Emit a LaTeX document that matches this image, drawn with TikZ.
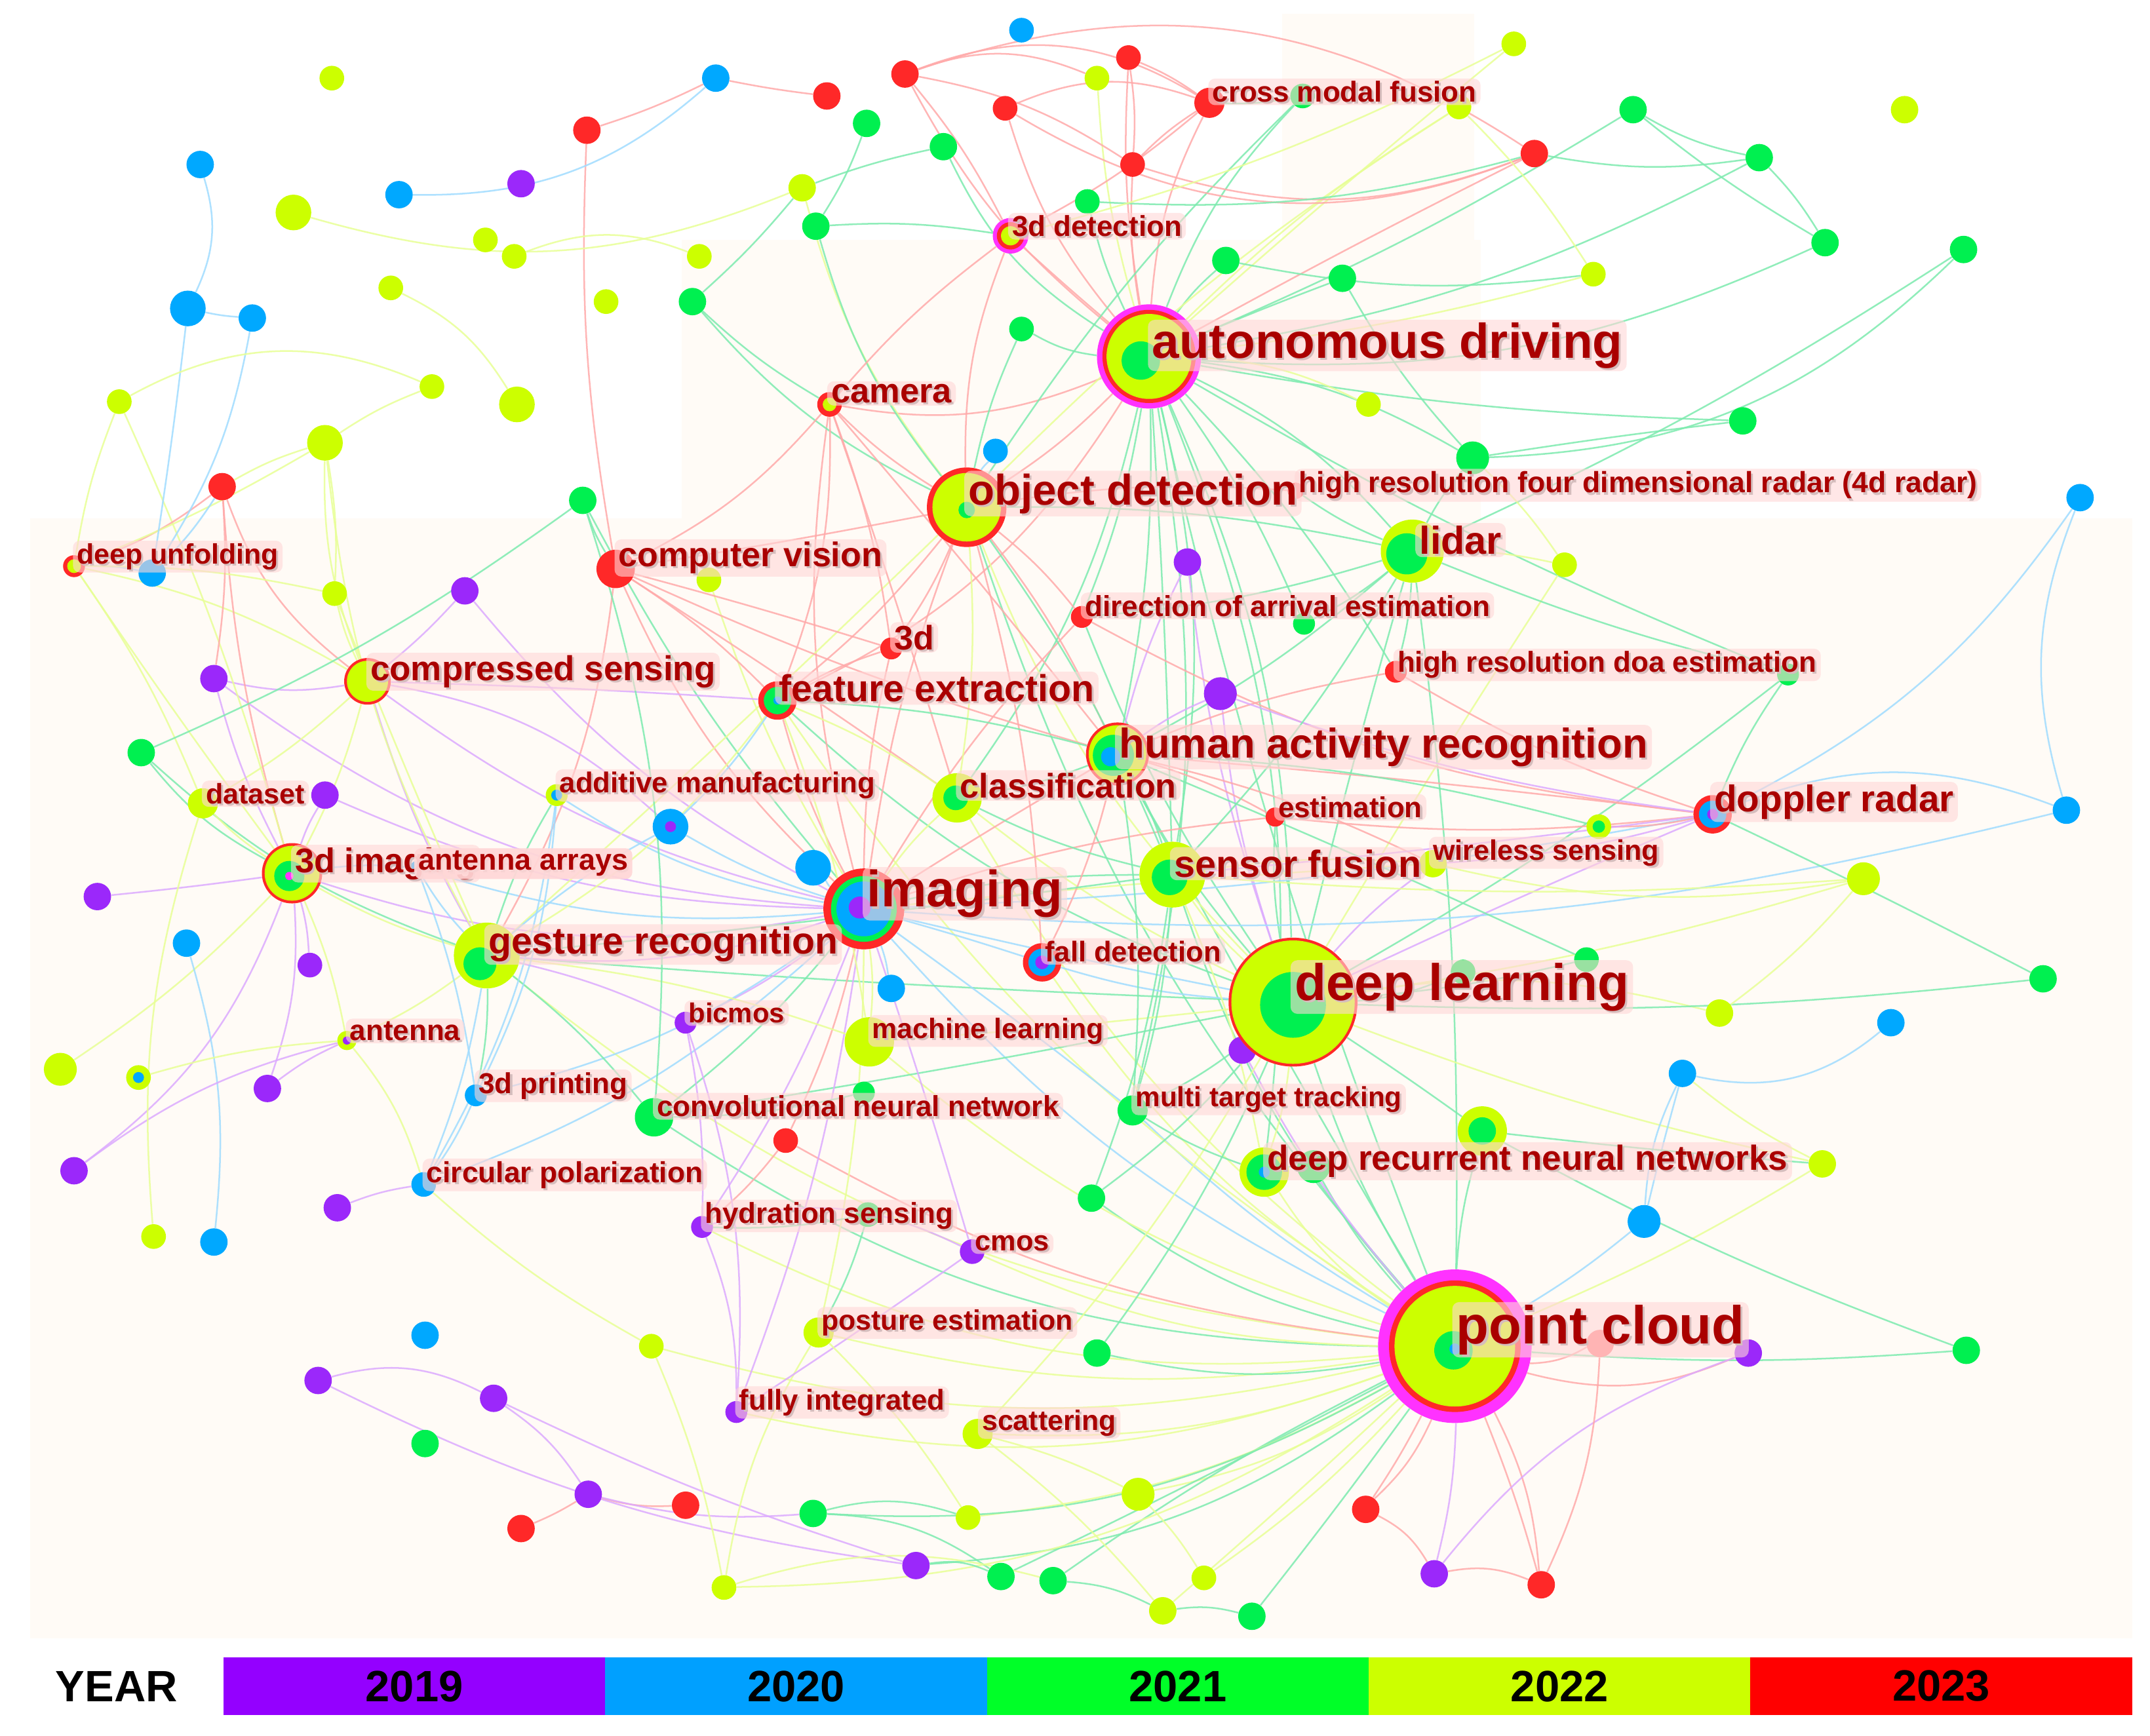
\documentclass[tikz,border=0pt]{standalone}
\usepackage{fontspec}
\setmainfont{Liberation Sans}
\definecolor{c19}{RGB}{155,40,250}
\definecolor{c20}{RGB}{0,168,255}
\definecolor{c21}{RGB}{0,240,80}
\definecolor{c22}{RGB}{204,255,0}
\definecolor{c23}{RGB}{255,40,40}
\definecolor{cmag}{RGB}{255,50,255}
\definecolor{csal}{RGB}{255,128,128}
\definecolor{l19}{RGB}{220,170,255}
\definecolor{l20}{RGB}{160,220,255}
\definecolor{l21}{RGB}{125,235,175}
\definecolor{l22}{RGB}{232,255,150}
\definecolor{l23}{RGB}{255,170,170}
\definecolor{lred}{RGB}{170,0,0}
\definecolor{lpink}{RGB}{255,215,215}
\definecolor{shgray}{RGB}{150,150,150}
\definecolor{beige}{RGB}{255,251,246}
\definecolor{k19}{RGB}{148,0,255}
\definecolor{k20}{RGB}{0,160,255}
\definecolor{k21}{RGB}{0,255,40}
\definecolor{k22}{RGB}{204,255,0}
\definecolor{k23}{RGB}{255,0,0}
\pgfdeclarelayer{bg}
\pgfdeclarelayer{edges}
\pgfsetlayers{bg,edges,main}
\tikzset{
  dot/.style={circle,inner sep=0pt,draw=none},
  edge/.style={line width=1.2pt,opacity=0.85},
  kw/.style={anchor=west,xshift=-3pt,inner xsep=3pt,inner ysep=2pt,fill=lpink,fill opacity=0.6,text opacity=1,text=lred,rounded corners=5pt,font=\bfseries\fontsize{#1}{#1}\selectfont},
  kwsh/.style={anchor=west,xshift=-1.5pt,yshift=-1.5pt,inner xsep=3pt,inner ysep=2pt,text=shgray,font=\bfseries\fontsize{#1}{#1}\selectfont},
  legbox/.style={minimum width=278.4pt,minimum height=42pt,inner sep=0pt,font=\bfseries\fontsize{32}{32}\selectfont,text=black},
}
\begin{document}
\begin{tikzpicture}[x=1pt,y=-1pt]
\useasboundingbox (0,0) rectangle (1568,1266);
\begin{pgfonlayer}{bg}
\fill[white] (0,0) rectangle (1568,1266);
\fill[beige] (22,378) rectangle (1555,1195);
\fill[beige] (497,175) rectangle (1080,378);
\fill[beige] (935,10) rectangle (1075,175);
\end{pgfonlayer}

% ---------- small nodes ----------
\foreach \n/\x/\y/\r/\c in {
t1/745/22/9/c20, t2/1104/32/9/c22, t3/242/57/9/c22, t4/522/57/10/c20, t5/660/54/10/c23, t6/823/42/9/c23, t7/800/57/9/c22, t8/603/70/10/c23, t9/733/79/9/c23, t10/950/70/9/c21, t11/1064/78/9/c22, t12/1191/80/10/c21, t13/1389/80/10/c22, t14/428/95/10/c23, t15/632/90/10/c21, t16/688/107/10/c21, t17/826/120/9/c23, t18/1119/112/10/c23, t19/1283/115/10/c21, t20/146/120/10/c20, t21/380/134/10/c19, t22/291/142/10/c20, t23/585/137/10/c22, t24/214/155/13/c22, t25/595/165/10/c21, t26/793/147/9/c21, t27/354/175/9/c22, t28/375/187/9/c22, t29/510/187/9/c22, t30/1331/177/10/c21, t31/1432/182/10/c21, t32/894/190/10/c21, t33/979/203/10/c21, t34/1162/200/9/c22, t35/137/225/13/c20, t36/184/232/10/c20, t37/285/210/9/c22, t38/442/220/9/c22, t39/505/220/10/c21, t40/745/240/9/c21, t41/87/293/9/c22, t42/315/282/9/c22, t43/377/295/13/c22, t44/998/295/9/c22, t45/237/323/13/c22, t46/726/329/9/c20, t47/1074/334/12/c21, t48/1271/307/10/c21, t49/162/355/10/c23, t50/425/365/10/c21,
m1/1517/363/10/c20, m2/111/418/10/c20, m3/866/410/10/c19, m4/1141/412/9/c22, m5/517/423/9/c22, m6/244/433/9/c22, m7/339/431/10/c19, m8/951/455/8/c21, m9/156/495/10/c19, m10/890/506/12/c19, m11/1304/492/8/c21, m12/103/549/10/c21, m13/237/580/10/c19, m14/489/603/13/c20, m15/593/633/13/c20, m16/1507/591/10/c20, m17/1359/641/12/c22, m18/71/654/10/c19, m19/136/688/10/c20, m20/226/704/9/c19, m21/650/721/10/c20, m22/1157/700/9/c21, m23/1067/709/9/c21, m24/1490/714/10/c21, m25/1254/739/10/c22, m26/906/766/10/c19, m27/1379/746/10/c20, m28/44/780/12/c22, m29/101/786/9/c22, m30/195/794/10/c19, m31/1227/783/10/c20, m32/1081/825/18/c22, m33/958/851/12/c21, m34/573/832/9/c23, m35/630/797/8/c21, m36/1329/849/10/c22, m37/54/854/10/c19, m38/246/881/10/c19, m39/796/874/10/c21, m40/1199/891/12/c20, m41/112/902/9/c22, m42/156/906/10/c20, m43/633/886/9/c21, m44/1166/603/9/c22,
b1/310/974/10/c20, b2/475/982/9/c22, b3/800/987/10/c21, b4/1167/980/10/csal, b5/1275/987/10/c19, b6/1434/985/10/c21, b7/232/1007/10/c19, b8/360/1020/10/c19, b9/310/1053/10/c21, b10/830/1090/12/c22, b11/429/1090/10/c19, b12/500/1098/10/c23, b13/380/1115/10/c23, b14/593/1104/10/c21, b15/706/1107/9/c22, b16/996/1101/10/c23, b17/668/1142/10/c19, b18/1046/1148/10/c19, b19/730/1150/10/c21, b20/768/1153/10/c21, b21/878/1151/9/c22, b22/528/1158/9/c22, b23/1124/1156/10/c23, b24/848/1175/10/c22, b25/913/1179/10/c21}
{\node[dot,minimum size=\r*2pt,fill=\c] (\n) at (\x,\y) {};}
\fill[c19] (m14.center) circle[radius=4pt];
\fill[c20] (m29.center) circle[radius=4pt];
\fill[c21] (m32.center) circle[radius=10pt];
\fill[c21] (m44.center) circle[radius=4.5pt];

% ---------- keyword nodes ----------
\node[dot,minimum size=76pt,fill=cmag] (ad) at (838,260) {};
\fill[c23] (ad.center) circle[radius=34pt];
\fill[c22] (ad.center) circle[radius=31pt];
\fill[c21] (832,263) circle[radius=14pt];
\node[dot,minimum size=112pt,fill=cmag] (pc) at (1061,982) {};
\fill[c23] (pc.center) circle[radius=48pt];
\fill[c22] (pc.center) circle[radius=44pt];
\fill[c21] (1060,985) circle[radius=14pt];
\fill[c20] (1061,984) circle[radius=4pt];
\node[dot,minimum size=94pt,fill=c23] (dl) at (943,731) {};
\fill[c22] (dl.center) circle[radius=45pt];
\fill[c21] (943,733) circle[radius=24pt];
\node[dot,minimum size=59pt,fill=c23] (img) at (630,663) {};
\fill[c21] (img.center) circle[radius=24pt];
\fill[c20] (img.center) circle[radius=20pt];
\fill[c19] (627,662) circle[radius=8pt];
\node[dot,minimum size=58pt,fill=c23] (od) at (705,370) {};
\fill[c22] (od.center) circle[radius=25pt];
\fill[c21] (705,372) circle[radius=6pt];
\node[dot,minimum size=46pt,fill=c22] (lid) at (1030,402) {};
\fill[c21] (1026,404) circle[radius=15pt];
\node[dot,minimum size=46pt,fill=c23] (har) at (815,550) {};
\fill[c22] (har.center) circle[radius=21pt];
\fill[c21] (812,551) circle[radius=15pt];
\fill[c20] (810,552) circle[radius=7pt];
\node[dot,minimum size=48pt,fill=c22] (sf) at (855,638) {};
\fill[c21] (853,640) circle[radius=13pt];
\node[dot,minimum size=48pt,fill=c22] (gr) at (355,697) {};
\fill[c21] (350,703) circle[radius=12pt];
\node[dot,minimum size=36pt,fill=c22] (drnn) at (922,855) {};
\fill[c21] (drnn.center) circle[radius=13pt];
\fill[c20] (drnn.center) circle[radius=4pt];
\node[dot,minimum size=28pt,fill=c23] (dop) at (1249,594) {};
\fill[c20] (dop.center) circle[radius=10pt];
\fill[c19] (dop.center) circle[radius=4pt];
\node[dot,minimum size=36pt,fill=c22] (cls) at (698,582) {};
\fill[c21] (697,582) circle[radius=9pt];
\node[dot,minimum size=28pt,fill=c23] (fe) at (567,511) {};
\fill[c21] (fe.center) circle[radius=10pt];
\fill[c20] (fe.center) circle[radius=3pt];
\node[dot,minimum size=34pt,fill=c23] (cs) at (268,497) {};
\fill[c22] (cs.center) circle[radius=15pt];
\node[dot,minimum size=44pt,fill=c23] (i3d) at (213,637) {};
\fill[c22] (i3d.center) circle[radius=20pt];
\fill[c21] (211,639) circle[radius=11pt];
\fill[cmag] (211,639) circle[radius=3pt];
\node[dot,minimum size=10pt,fill=c20] (aa) at (304,633) {};
\node[dot,minimum size=28pt,fill=c23] (cv) at (449,415) {};
\node[dot,minimum size=18pt,fill=c23] (cam) at (605,295) {};
\fill[c22] (cam.center) circle[radius=5pt];
\node[dot,minimum size=26pt,fill=cmag] (det3d) at (737,172) {};
\fill[c23] (det3d.center) circle[radius=10pt];
\fill[c22] (det3d.center) circle[radius=7pt];
\node[dot,minimum size=22pt,fill=c23] (cmf) at (882,75) {};
\node[dot,minimum size=12pt,fill=c23] (hr4d) at (945,358) {};
\node[dot,minimum size=16pt,fill=c23] (doa) at (789,450) {};
\node[dot,minimum size=16pt,fill=c23] (d3) at (650,473) {};
\node[dot,minimum size=16pt,fill=c23] (hrdoa) at (1018,490) {};
\node[dot,minimum size=14pt,fill=c23] (est) at (930,596) {};
\node[dot,minimum size=20pt,fill=c22] (ws) at (1045,630) {};
\node[dot,minimum size=16pt,fill=c22] (am) at (406,580) {};
\fill[c20] (am.center) circle[radius=4pt];
\node[dot,minimum size=22pt,fill=c22] (ds) at (148,586) {};
\node[dot,minimum size=16pt,fill=c23] (du) at (54,413) {};
\fill[c22] (du.center) circle[radius=5pt];
\node[dot,minimum size=28pt,fill=c23] (fd) at (760,702) {};
\fill[c20] (fd.center) circle[radius=10pt];
\fill[c19] (fd.center) circle[radius=5pt];
\node[dot,minimum size=36pt,fill=c22] (ml) at (634,760) {};
\node[dot,minimum size=16pt,fill=c19] (bic) at (500,746) {};
\node[dot,minimum size=14pt,fill=c22] (ant) at (253,759) {};
\fill[c19] (ant.center) circle[radius=3pt];
\node[dot,minimum size=16pt,fill=c20] (pr3d) at (347,799) {};
\node[dot,minimum size=28pt,fill=c21] (cnn) at (477,815) {};
\node[dot,minimum size=22pt,fill=c21] (mtt) at (826,810) {};
\node[dot,minimum size=18pt,fill=c20] (cp) at (309,864) {};
\node[dot,minimum size=16pt,fill=c19] (hs) at (512,895) {};
\node[dot,minimum size=18pt,fill=c19] (cmos) at (709,913) {};
\node[dot,minimum size=22pt,fill=c22] (pe) at (597,972) {};
\node[dot,minimum size=16pt,fill=c19] (fi) at (537,1030) {};
\node[dot,minimum size=22pt,fill=c22] (sc) at (713,1046) {};

% ---------- connectors ----------
\begin{pgfonlayer}{edges}
\foreach \a/\b/\s/\bd in {
ad/cmf/l23/5, ad/det3d/l23/-5, ad/cam/l23/10, ad/od/l23/0, ad/t10/l21/5, ad/t12/l21/-10, ad/t19/l21/-15, ad/t30/l21/-20, ad/t32/l21/0, ad/t33/l21/-5, ad/t40/l21/5, ad/lid/l21/5, ad/har/l21/0, ad/sf/l21/-5, ad/t47/l21/5, ad/t48/l21/-10, ad/t5/l23/5, ad/t6/l23/0, ad/t7/l22/0, ad/dl/l21/5, ad/t18/l23/-5, ad/pc/l21/-10, ad/t44/l22/5, ad/doa/l21/0, ad/mtt/l21/5, ad/t26/l21/0, ad/t2/l22/-5, ad/t11/l22/0, ad/t34/l22/-10, ad/t16/l21/10, ad/m11/l21/-10, ad/drnn/l21/8, ad/cls/l21/5, ad/fe/l23/10, ad/m8/l21/0, ad/hrdoa/l21/0, ad/t9/l23/5, ad/t17/l23/0, ad/sf/l21/5,
pc/dl/l21/0, pc/drnn/l22/5, pc/sf/l21/5, pc/har/l21/-5, pc/lid/l21/-10, pc/m40/l20/-10, pc/b6/l21/-10, pc/b5/l23/-25, pc/b4/l23/-20, pc/b23/l23/5, pc/b23/l23/-3, pc/b18/l19/0, pc/b16/l23/5, pc/b16/l23/-3, pc/b25/l21/-5, pc/b24/l22/-5, pc/b21/l22/0, pc/b10/l22/5, pc/b20/l21/-10, pc/b19/l21/-5, pc/b15/l22/5, pc/sc/l22/5, pc/pe/l22/5, pc/b3/l21/5, pc/m39/l21/5, pc/cnn/l21/10, pc/ml/l22/5, pc/od/l21/5, pc/img/l20/5, pc/gr/l22/10, pc/b17/l21/10, pc/b14/l21/10, pc/b22/l22/10, pc/m32/l21/0, pc/m36/l22/-10, pc/mtt/l20/0, pc/fd/l22/5, pc/b2/l22/8, pc/m34/l23/5, pc/cls/l22/5, pc/fe/l22/5, pc/m33/l21/0, pc/m26/l19/0, pc/hs/l22/10, pc/cmos/l22/5, pc/fi/l22/10,
dl/img/l20/-5, dl/gr/l21/-5, dl/har/l21/0, dl/sf/l22/0, dl/cls/l22/0, dl/fe/l21/5, dl/od/l22/5, dl/lid/l21/-5, dl/m23/l21/-15, dl/m22/l21/-10, dl/m25/l22/5, dl/m24/l21/-10, dl/m17/l22/-10, dl/dop/l19/-5, dl/ws/l19/0, dl/est/l21/0, dl/m26/l19/0, dl/mtt/l21/0, dl/drnn/l22/0, dl/ml/l22/-5, dl/cnn/l21/-5, dl/fd/l20/0, dl/m32/l21/-5, dl/m10/l19/0, dl/m11/l21/-10, dl/m4/l22/-5, dl/m3/l19/0, dl/b3/l21/0, dl/m39/l21/0, dl/sc/l22/0, dl/m36/l22/-10, dl/doa/l21/0}
{\pgfmathsetmacro\bb{\bd+6}\draw[edge,draw=\s] (\a) to[bend left=\bb] (\b);}
\foreach \a/\b/\s/\bd in {
img/cv/l23/5, img/cam/l23/5, img/od/l23/0, img/fe/l23/0, img/d3/l23/0, img/cls/l22/0, img/am/l20/5, img/m14/l20/0, img/m15/l20/0, img/gr/l19/5, img/bic/l19/0, img/ml/l22/0, img/cnn/l21/0, img/pr3d/l20/5, img/cp/l20/5, img/hs/l19/0, img/cmos/l19/-5, img/pe/l22/0, img/fi/l19/0, img/m21/l20/0, img/fd/l20/-5, img/har/l23/-5, img/cs/l19/5, img/i3d/l19/8, img/aa/l20/5, img/m7/l19/5, img/t50/l21/0, img/m9/l19/10, img/m13/l19/5, img/m5/l22/0, img/dop/l20/-10, img/doa/l23/0, img/est/l23/0, img/m16/l20/-15, img/sf/l21/0, img/mtt/l20/-5, img/m34/l23/0, img/ws/l22/-5,
od/cam/l23/0, od/cv/l23/-5, od/fe/l23/0, od/d3/l23/0, od/cls/l22/0, od/har/l23/0, od/doa/l23/0, od/lid/l21/0, od/hr4d/l23/0, od/t46/l20/0, od/t40/l21/0, od/det3d/l23/5, od/t23/l22/5, od/sf/l21/0, od/gr/l22/-5, od/fd/l23/0, od/t25/l21/5, od/t39/l21/5, od/t10/l21/0, od/t11/l22/0,
cam/cv/l23/5, cam/fe/l23/5, cam/d3/l23/0, cam/cls/l23/-5, cam/det3d/l23/0, cam/t39/l21/0, cam/har/l23/-5,
cv/fe/l23/0, cv/cls/l23/-5, cv/d3/l23/-5, cv/har/l23/-10, cv/gr/l23/5, cv/t50/l21/0, cv/t14/l23/0,
fe/cls/l22/0, fe/har/l21/0, fe/gr/l22/5, fe/d3/l23/0, fe/m14/l20/0, fe/ml/l22/0,
har/dop/l23/-5, har/fd/l23/0, har/cls/l21/0, har/sf/l21/0, har/m22/l21/-5, har/ws/l23/0, har/est/l23/0, har/hrdoa/l23/0, har/m3/l19/0, har/m10/l19/0, har/mtt/l21/0, har/m44/l21/0,
dop/hrdoa/l23/0, dop/est/l23/0, dop/m44/l23/0, dop/ws/l19/0, dop/m1/l20/-20, dop/m16/l20/15, dop/m24/l21/-5, dop/doa/l23/5, dop/m11/l21/0, dop/sf/l19/-5, dop/m10/l19/0, m1/m16/l20/-25,
lid/t47/l21/0, lid/m4/l22/0, lid/hr4d/l21/0, lid/doa/l21/0, lid/sf/l21/0, lid/har/l21/0, lid/hrdoa/l21/0, lid/m8/l21/0, lid/t31/l21/-10, lid/m11/l21/-10, t47/t33/l21/0, t47/m4/l22/0, t47/t48/l21/-5}
{\pgfmathsetmacro\bb{\bd+6}\draw[edge,draw=\s] (\a) to[bend left=\bb] (\b);}
\foreach \a/\b/\s/\bd in {
sf/cls/l21/0, sf/ws/l22/0, sf/mtt/l21/0, sf/drnn/l22/0, sf/gr/l21/-5, sf/m17/l22/-10, sf/m39/l21/0,
gr/cs/l19/0, gr/i3d/l22/0, gr/ant/l22/0, gr/pr3d/l21/0, gr/cnn/l21/0, gr/ml/l22/0, gr/m14/l20/0, gr/aa/l20/0, gr/am/l21/0, gr/cp/l20/0, gr/m6/l22/-5, gr/m12/l21/5, gr/t45/l22/5, gr/bic/l19/0,
cs/du/l22/-15, cs/m7/l19/-10, cs/m9/l19/5, cs/t49/l23/10, cs/m6/l22/0, cs/ds/l22/0, cs/i3d/l22/0, cs/t45/l22/5, cs/m14/l19/10, cs/fe/l19/-5,
i3d/ds/l22/0, i3d/m12/l21/5, i3d/m9/l19/0, i3d/t49/l23/0, i3d/aa/l20/0, i3d/ant/l22/0, i3d/m20/l19/0, i3d/m18/l19/-5, i3d/m30/l19/5, i3d/m37/l19/10, i3d/m13/l19/0, i3d/t41/l22/-10, i3d/du/l22/-5, i3d/m28/l22/0,
du/t49/l23/-15, du/m2/l20/0, du/t41/l22/0, du/ds/l22/0, du/t45/l22/-10, du/m6/l22/0,
t20/t35/l20/15, t35/t36/l20/-10, t35/m2/l20/-5, t36/m2/l20/5, m19/m42/l20/5, t49/m2/l20/0, t49/m9/l23/0, t49/t45/l22/0,
t4/t22/l20/15, t4/t8/l23/-8, t14/t4/l23/-10, t24/t23/l22/-25, t28/t29/l22/15, t37/t43/l22/10, t41/t42/l22/20, t16/t23/l21/-10, t39/t23/l21/-10, t5/t7/l23/15, t5/cmf/l23/20, t5/t18/l23/20, t5/t17/l23/5, t9/cmf/l23/15, t6/cmf/l23/0, t6/t17/l23/0, t17/t18/l23/-25, t17/cmf/l23/0, cmf/det3d/l23/0, t18/t9/l23/20, t12/t19/l21/-15, t12/t30/l21/-10, t19/t30/l21/0, t18/t19/l21/-15, t26/t18/l21/-15, t5/det3d/l23/0, t2/det3d/l22/0, t11/t34/l22/0, t32/t34/l21/-15, t10/cmf/l21/0, t15/t25/l21/0, t25/det3d/l21/0, t45/t42/l22/0, t45/m6/l22/0, t50/cnn/l21/5, t50/m12/l21/0, t31/t47/l21/15,
m27/m31/l20/20, m40/m31/l20/5, m40/m31/l20/-5, m36/m32/l21/-5, m32/b6/l21/-10, drnn/m33/l21/0, drnn/mtt/l21/0, m17/ws/l22/5, m17/m25/l22/0, m36/m31/l22/0,
b7/b8/l19/15, b7/b17/l19/-15, b8/b17/l19/-10, b8/b11/l19/5, b11/b12/l23/-15, b13/b11/l23/-10, b11/b14/l19/-15, b14/b19/l21/10, b14/b15/l21/10, b17/b19/l21/10, b22/b20/l22/10, b2/b22/l22/0, b22/pe/l22/5, b2/cp/l22/0, b16/b18/l23/10, b18/b23/l23/10, b18/b5/l19/10, b4/b23/l23/5, hs/fi/l19/5, hs/cmos/l19/15, cmos/fi/l19/-5, m34/hs/l23/0, sc/b10/l22/0, sc/b24/l22/0, pe/b15/l22/0, b10/b21/l22/0, b20/b24/l21/5, b24/b25/l21/5, m29/ant/l22/0, m30/ant/l19/0, m37/ant/l19/5, m38/cp/l19/0, m41/ds/l22/5, m43/hs/l21/0, m43/pe/l21/0, m35/cnn/l21/0, bic/hs/l19/0, bic/fi/l19/5, pr3d/cp/l20/0, am/pr3d/l20/5, am/cp/l20/5, aa/pr3d/l20/0, ant/cp/l22/5}
{\pgfmathsetmacro\bb{\bd+6}\draw[edge,draw=\s] (\a) to[bend left=\bb] (\b);}
\end{pgfonlayer}

% ---------- labels (shadow, then pink box with text) ----------
\foreach \nm/\x/\y/\sz/\t in {
ad/840/252/35.7/autonomous driving, pc/1062/970/39/point cloud, dl/944/720/37.5/deep learning, img/632/652/37.3/imaging, od/706/360/31.3/object detection, hr4d/947/354/21.3/high resolution four dimensional radar (4d radar), lid/1035/394/28.4/lidar, har/816/545/30.3/human activity recognition, sf/856/630/27.5/sensor fusion, gr/356/689/27.3/gesture recognition, drnn/924/847/25.4/deep recurrent neural networks, dop/1250/585/27.1/doppler radar, cls/700/573/24.9/classification, fe/568/502/27.4/feature extraction, cs/270/490/25.3/compressed sensing, i3d/215/630/25/3d imaging}
{\node[kwsh=\sz] (S\nm) at (\x,\y) {\t};
 \node[kw=\sz] (L\nm) at (\x,\y) {\t};}
\node[kwsh=21.5] (Saa) at (305,630) {antenna arrays};
\node[kw=21.5,fill opacity=0.93] (Laa) at (305,630) {antenna arrays};
\foreach \nm/\x/\y/\sz/\t in {
cv/451/407/24.9/computer vision, cam/606/287/25.1/camera, det3d/738/165/21/3d detection, cmf/884/67/21/cross modal fusion, doa/791/442/21.1/direction of arrival estimation, d3/652/465/24.8/3d, hrdoa/1019/485/21/high resolution doa estimation, est/932/589/21/estimation, ws/1045/622/20.6/wireless sensing, am/408/573/20.9/additive manufacturing, ds/150/579/20.6/dataset, du/56/406/20.5/deep unfolding, fd/762/694/20.8/fall detection, ml/636/752/20.5/machine learning, bic/502/739/20/bicmos, ant/255/752/21/antenna, pr3d/349/792/21/3d printing, cnn/479/807/21.1/convolutional neural network, mtt/828/802/20.2/multi target tracking, cp/311/857/21.2/circular polarization, hs/514/887/21/hydration sensing, cmos/711/907/20.7/cmos, pe/599/965/20.5/posture estimation, fi/539/1023/20.9/fully integrated, sc/716/1038/20.5/scattering}
{\node[kwsh=\sz] (S\nm) at (\x,\y) {\t};
 \node[kw=\sz] (L\nm) at (\x,\y) {\t};}

% ---------- legend ----------
\node[font=\bfseries\fontsize{32}{32}\selectfont,text=black] (yr) at (85,1230) {YEAR};
\node[legbox,fill=k19] (y19) at (302.2,1230) {2019};
\node[legbox,fill=k20] (y20) at (580.6,1230) {2020};
\node[legbox,fill=k21] (y21) at (859,1230) {2021};
\node[legbox,fill=k22] (y22) at (1137.4,1230) {2022};
\node[legbox,fill=k23] (y23) at (1415.8,1230) {2023};
\end{tikzpicture}
\end{document}
